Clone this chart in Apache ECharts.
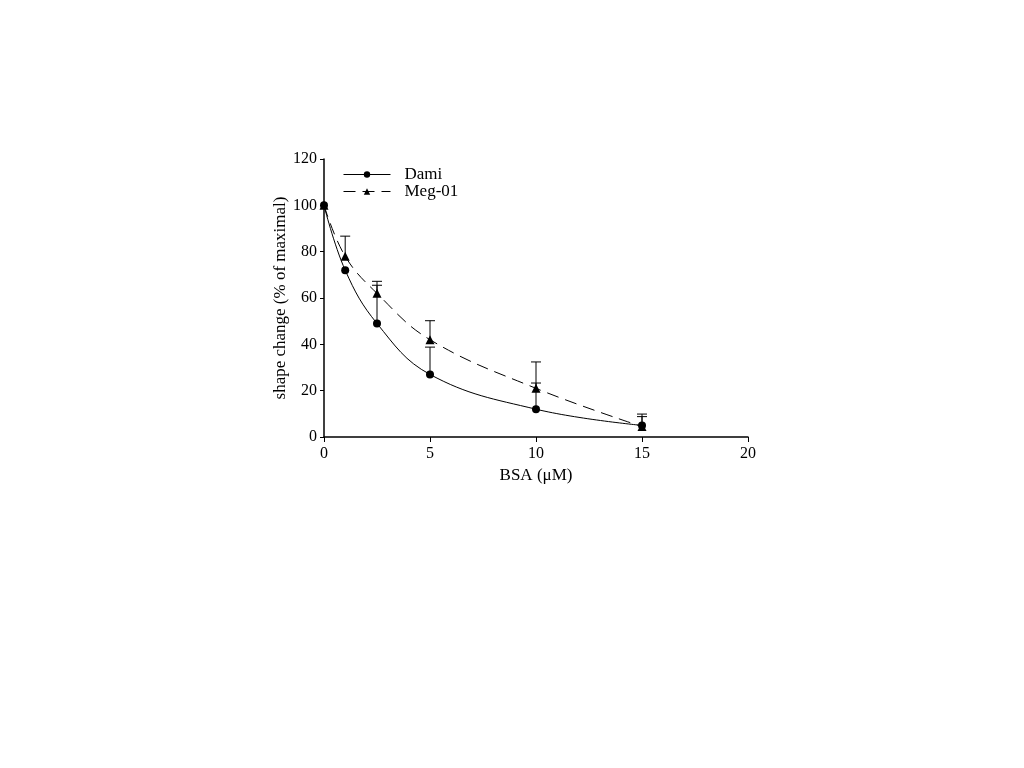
<!DOCTYPE html>
<html>
<head>
<meta charset="utf-8">
<script src="https://cdn.jsdelivr.net/npm/echarts@6/dist/echarts.min.js"></script>
<style>html,body{margin:0;padding:0;background:#fff;}#chart{width:1024px;height:768px;}</style>
</head>
<body>
<div id="chart"></div>
<script>
const xValues = [0, 1, 2.5, 5, 10, 15];
const damiValues = [100, 72, 49, 27, 12, 5];
const megValues = [100, 78, 62, 42, 21, 4.5];
const damiErrTop = [100, 72, 65.5, 38.8, 23.3, 8.8];
const megErrTop = [100, 86.7, 67.2, 50.2, 32.4, 9.9];
const xTicks = [0, 5, 10, 15, 20];
const yTicks = [0, 20, 40, 60, 80, 100, 120];

const font = "'Liberation Serif', 'Times New Roman', serif";
const chart = echarts.init(document.getElementById('chart'));

function pairs(ys) { return xValues.map((x, i) => [x, ys[i]]); }
function errData(ys, tops) { return xValues.map((x, i) => [x, ys[i], tops[i]]); }

function errRender(params, api) {
  const x = api.value(0);
  const lo = api.coord([x, api.value(1)]);
  const hi = api.coord([x, api.value(2)]);
  const w = 5;
  if (api.value(2) <= api.value(1)) return null;
  return {
    type: 'group',
    children: [
      { type: 'line', shape: { x1: lo[0], y1: lo[1], x2: hi[0], y2: hi[1] }, style: { stroke: '#000', lineWidth: 1 } },
      { type: 'line', shape: { x1: hi[0] - w, y1: hi[1], x2: hi[0] + w, y2: hi[1] }, style: { stroke: '#000', lineWidth: 1 } }
    ]
  };
}

chart.setOption({
  animation: false,
  backgroundColor: '#fff',
  grid: { left: 324, right: 276, top: 159, bottom: 331 },
  legend: {
    orient: 'vertical',
    left: 338, top: 161,
    itemWidth: 47, itemHeight: 8, itemGap: 0,
    lineStyle: { width: 1 },
    textStyle: { fontFamily: font, fontSize: 17, color: '#000', padding: [0, 0, 0, 9] },
    data: ['Dami', 'Meg-01']
  },
  xAxis: {
    type: 'value', min: 0, max: 20, interval: 5,
    name: 'BSA (μM)', nameLocation: 'middle', nameGap: 30,
    nameTextStyle: { fontFamily: font, fontSize: 17, color: '#000' },
    axisLine: { lineStyle: { color: '#000', width: 1.5 } },
    axisTick: { show: true, length: 5, lineStyle: { color: '#000' } },
    axisLabel: { fontFamily: font, fontSize: 16, color: '#000', margin: 9,
      formatter: v => xTicks.includes(v) ? String(v) : '' },
    splitLine: { show: false }
  },
  yAxis: {
    type: 'value', min: 0, max: 120, interval: 20,
    name: 'shape change (% of maximal)', nameLocation: 'middle', nameGap: 29, nameRotate: 90,
    nameTextStyle: { fontFamily: font, fontSize: 17, color: '#000' },
    axisLine: { show: true, lineStyle: { color: '#000', width: 1.5 } },
    axisTick: { show: true, length: 4, lineStyle: { color: '#000' } },
    axisLabel: { fontFamily: font, fontSize: 16, color: '#000', margin: 7,
      formatter: v => yTicks.includes(v) ? String(v) : '' },
    splitLine: { show: false }
  },
  series: [
    {
      type: 'custom', name: 'damiErr', renderItem: errRender,
      data: errData(damiValues, damiErrTop), encode: { x: 0, y: [1, 2] }, z: 1, silent: true
    },
    {
      type: 'custom', name: 'megErr', renderItem: errRender,
      data: errData(megValues, megErrTop), encode: { x: 0, y: [1, 2] }, z: 1, silent: true
    },
    {
      name: 'Dami', type: 'line', smooth: 0.4, data: pairs(damiValues),
      symbol: 'circle', symbolSize: 8,
      itemStyle: { color: '#000' },
      lineStyle: { color: '#000', width: 1, type: 'solid' }, z: 3
    },
    {
      name: 'Meg-01', type: 'line', smooth: 0.4, data: pairs(megValues),
      symbol: 'triangle', symbolSize: 9,
      itemStyle: { color: '#000' },
      lineStyle: { color: '#000', width: 1, type: [12, 7] }, z: 3
    }
  ]
});
</script>
</body>
</html>
